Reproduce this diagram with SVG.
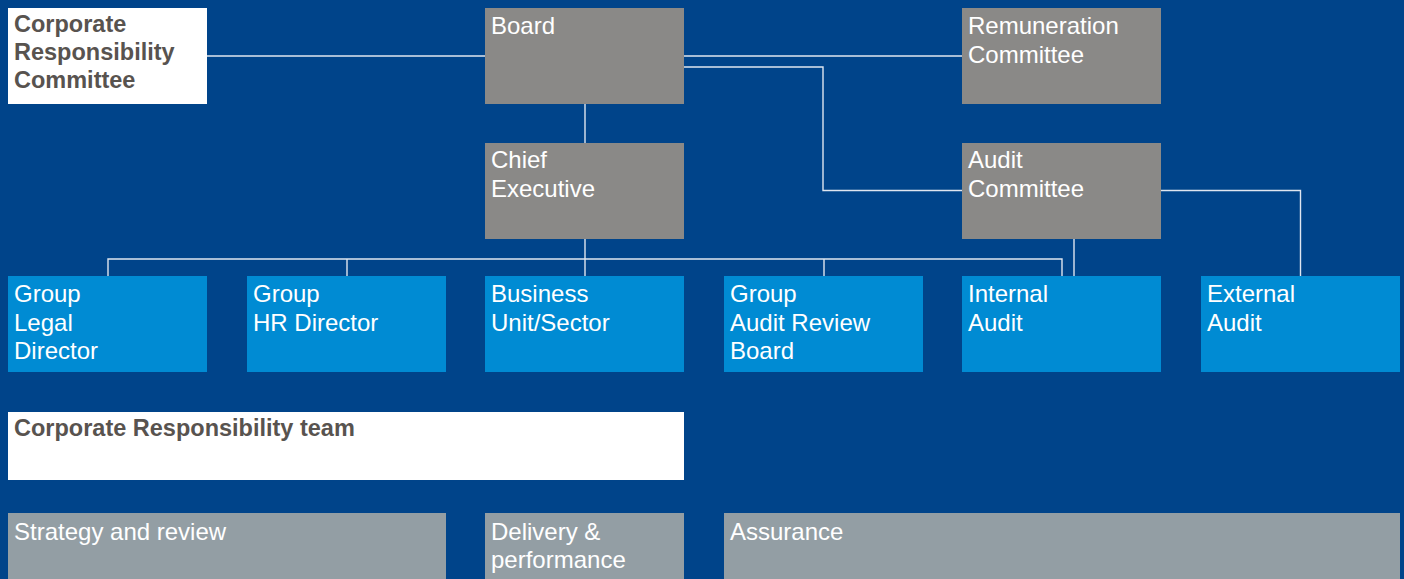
<svg xmlns="http://www.w3.org/2000/svg" width="1404" height="579" viewBox="0 0 1404 579">
<style>
.bg{fill:#00448a}
.wh{fill:#ffffff}
.gr{fill:#8a8987}
.bl{fill:#008bd3}
.sl{fill:#939ea4}
text{font-family:"Liberation Sans",Arial,sans-serif;font-size:24px}
.tw{fill:#ffffff}
.td{fill:#58534f;font-weight:bold;font-size:23.5px}
.ln{stroke:#dfe6f0;stroke-width:1.4;fill:none}
</style>
<rect class="bg" x="0" y="0" width="1404" height="579"/>
<g id="connectors">
<path class="ln" d="M207 56H485M684 56H962"/>
<path class="ln" d="M684 67H823V190.5H962"/>
<path class="ln" d="M585 104V143M585 239V276"/>
<path class="ln" d="M108 276V259H1062V276M347 259V276M824 259V276"/>
<path class="ln" d="M1074 239V276"/>
<path class="ln" d="M1161 190.5H1300.5V276"/>
</g>
<g id="crc"><rect class="wh" x="8" y="8" width="199" height="96"/><text class="td" x="14" y="32">Corporate</text><text class="td" x="14" y="60">Responsibility</text><text class="td" x="14" y="88">Committee</text></g>
<g id="board"><rect class="gr" x="485" y="8" width="199" height="96"/><text class="tw" x="491" y="34">Board</text></g>
<g id="remuneration"><rect class="gr" x="962" y="8" width="199" height="96"/><text class="tw" x="968" y="34">Remuneration</text><text class="tw" x="968" y="63">Committee</text></g>
<g id="chief"><rect class="gr" x="485" y="143" width="199" height="96"/><text class="tw" x="491" y="168">Chief</text><text class="tw" x="491" y="197">Executive</text></g>
<g id="audit-committee"><rect class="gr" x="962" y="143" width="199" height="96"/><text class="tw" x="968" y="168">Audit</text><text class="tw" x="968" y="197">Committee</text></g>
<g id="legal"><rect class="bl" x="8" y="276" width="199" height="96"/><text class="tw" x="14" y="302">Group</text><text class="tw" x="14" y="331">Legal</text><text class="tw" x="14" y="359">Director</text></g>
<g id="hr"><rect class="bl" x="247" y="276" width="199" height="96"/><text class="tw" x="253" y="302">Group</text><text class="tw" x="253" y="331">HR Director</text></g>
<g id="business"><rect class="bl" x="485" y="276" width="199" height="96"/><text class="tw" x="491" y="302">Business</text><text class="tw" x="491" y="331">Unit/Sector</text></g>
<g id="audit-review"><rect class="bl" x="724" y="276" width="199" height="96"/><text class="tw" x="730" y="302">Group</text><text class="tw" x="730" y="331">Audit Review</text><text class="tw" x="730" y="359">Board</text></g>
<g id="internal"><rect class="bl" x="962" y="276" width="199" height="96"/><text class="tw" x="968" y="302">Internal</text><text class="tw" x="968" y="331">Audit</text></g>
<g id="external"><rect class="bl" x="1201" y="276" width="199" height="96"/><text class="tw" x="1207" y="302">External</text><text class="tw" x="1207" y="331">Audit</text></g>
<g id="cr-team"><rect class="wh" x="8" y="412" width="676" height="68"/><text class="td" x="14" y="436">Corporate Responsibility team</text></g>
<g id="strategy"><rect class="sl" x="8" y="513" width="438" height="70"/><text class="tw" x="14" y="540">Strategy and review</text></g>
<g id="delivery"><rect class="sl" x="485" y="513" width="199" height="70"/><text class="tw" x="491" y="540">Delivery &amp;</text><text class="tw" x="491" y="568">performance</text></g>
<g id="assurance"><rect class="sl" x="724" y="513" width="676" height="70"/><text class="tw" x="730" y="540">Assurance</text></g>
</svg>
